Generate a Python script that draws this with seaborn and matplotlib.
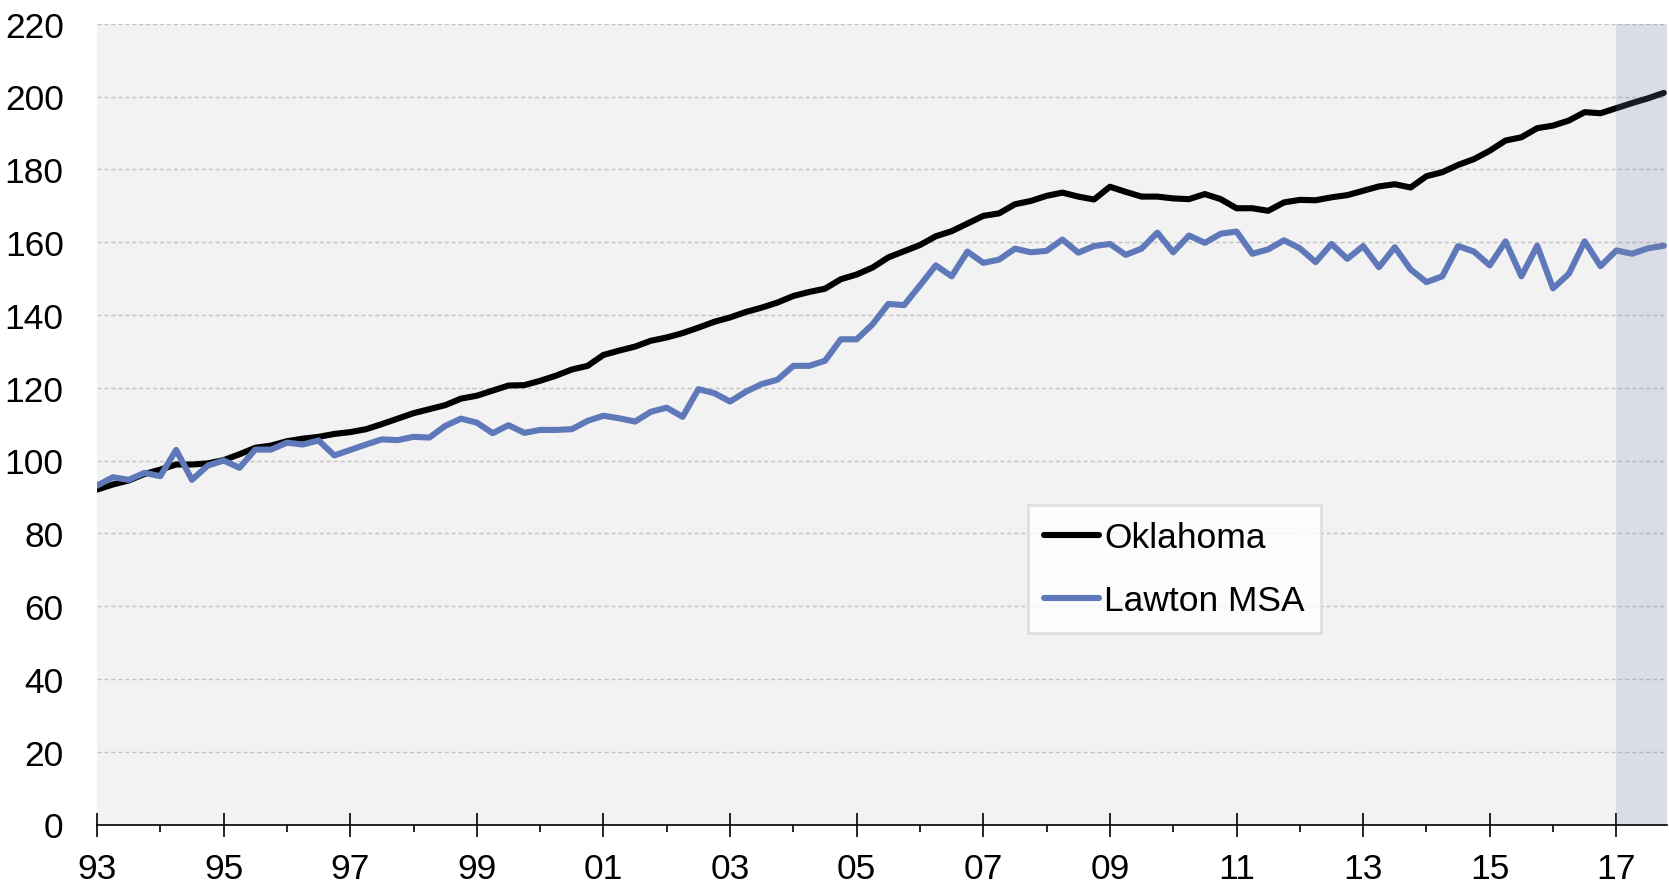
import numpy as np
import pandas as pd
import matplotlib
matplotlib.use('Agg')
import matplotlib.pyplot as plt
import seaborn as sns

# quarterly index, 1993Q1 .. 2017Q4
quarters = pd.period_range('1993Q1', '2017Q4', freq='Q')

oklahoma = [
    92.0, 93.4, 94.5, 96.3,
    97.5, 98.9, 98.9, 99.2,
    100.1, 101.7, 103.5, 104.1,
    105.3, 106.0, 106.5, 107.3,
    107.8, 108.6, 110.0, 111.5,
    113.0, 114.1, 115.2, 117.0,
    117.8, 119.2, 120.6, 120.7,
    121.9, 123.3, 125.0, 126.0,
    129.0, 130.2, 131.3, 132.9,
    133.8, 135.0, 136.5, 138.1,
    139.3, 140.8, 142.0, 143.4,
    145.2, 146.3, 147.2, 149.8,
    151.1, 153.0, 155.8, 157.5,
    159.2, 161.6, 163.0, 165.1,
    167.2, 167.9, 170.4, 171.3,
    172.7, 173.6, 172.5, 171.7,
    175.2, 173.8, 172.5, 172.5,
    172.0, 171.8, 173.2, 171.8,
    169.3, 169.3, 168.6, 170.9,
    171.6, 171.5, 172.3, 172.9,
    174.1, 175.3, 175.9, 175.0,
    178.1, 179.2, 181.2, 182.8,
    185.1, 187.9, 188.8, 191.3,
    192.0, 193.4, 195.7, 195.4,
    196.8, 198.2, 199.5, 201.0,
]

lawton = [
    93.1, 95.4, 94.7, 96.6,
    95.7, 102.9, 94.7, 98.6,
    100.0, 98.0, 103.0, 103.0,
    104.9, 104.4, 105.5, 101.4,
    102.9, 104.4, 105.8, 105.6,
    106.5, 106.3, 109.5, 111.5,
    110.4, 107.5, 109.7, 107.6,
    108.4, 108.4, 108.6, 110.9,
    112.3, 111.6, 110.7, 113.4,
    114.5, 112.0, 119.6, 118.5,
    116.2, 118.9, 121.0, 122.2,
    126.0, 126.0, 127.4, 133.3,
    133.3, 137.4, 143.0, 142.7,
    148.1, 153.6, 150.6, 157.4,
    154.3, 155.2, 158.2, 157.2,
    157.6, 160.7, 157.1, 158.9,
    159.5, 156.5, 158.2, 162.6,
    157.2, 161.8, 159.8, 162.3,
    162.9, 156.8, 158.0, 160.5,
    158.3, 154.5, 159.5, 155.4,
    158.9, 153.1, 158.6, 152.5,
    149.0, 150.6, 158.9, 157.4,
    153.6, 160.2, 150.6, 159.0,
    147.3, 151.3, 160.2, 153.4,
    157.7, 156.8, 158.3, 159.0,
]

series_names = ['Oklahoma', 'Lawton MSA']
colors = {'Oklahoma': '#000000', 'Lawton MSA': '#5f78b9'}
major_years = list(range(1993, 2018, 2))
major_labels = [str(y)[2:] for y in major_years]
minor_years = list(range(1994, 2018, 2))
y_ticks = list(range(0, 221, 20))
forecast_start = 2017

sns.set_theme(style='white')
plt.rcParams['font.family'] = ['Liberation Sans', 'DejaVu Sans']
plt.rcParams['text.color'] = 'black'

dates = quarters.year + (quarters.quarter - 1) / 4
df = pd.DataFrame({
    'date': np.tile(dates, 2),
    'value': oklahoma + lawton,
    'series': [series_names[0]] * len(oklahoma) + [series_names[1]] * len(lawton),
})

fig = plt.figure(figsize=(16.69, 8.87), dpi=100)
ax = fig.add_axes([97 / 1669, 61.5 / 887, 1570 / 1669, 800.8 / 887])
ax.set_facecolor('#f2f2f2')

sns.lineplot(data=df, x='date', y='value', hue='series', palette=colors,
             linewidth=4.4, ax=ax, legend=False, zorder=2)

ax.axvspan(forecast_start, 2017.8, color='#7a89b1', alpha=0.2, lw=0, zorder=3)

ax.set_xlim(1993, 2017.8)
ax.set_ylim(0, 220)
ax.set_yticks(y_ticks)
ax.set_xticks(major_years)
ax.set_xticklabels(major_labels)
ax.set_xticks(minor_years, minor=True)
ax.set_xlabel('')
ax.set_ylabel('')

ax.yaxis.grid(True, color='#c3c3c3', linestyle=(0, (3, 2)), linewidth=1.0, zorder=1)
ax.xaxis.grid(False)
ax.set_axisbelow(True)

for side in ['left', 'right', 'top']:
    ax.spines[side].set_visible(False)
ax.spines['bottom'].set_color('black')
ax.spines['bottom'].set_linewidth(1.2)
ax.spines['bottom'].set_zorder(4)

ax.tick_params(axis='y', length=0, pad=24, labelsize=25.5, labelcolor='black')
ax.tick_params(axis='x', which='major', direction='inout', length=17, width=1.2,
               color='black', pad=11, labelsize=25.5, labelcolor='black', bottom=True)
ax.tick_params(axis='x', which='minor', direction='out', length=5, width=1.2,
               color='black', bottom=True)

handles = ax.lines[:2]
leg = ax.legend(handles, series_names, loc='upper left', bbox_to_anchor=(0.593, 0.399),
                borderaxespad=0, fontsize=25.5, frameon=True, fancybox=False,
                handlelength=1.55, handletextpad=0.15, borderpad=0.45, labelspacing=0.85)
leg.get_frame().set_facecolor('white')
leg.get_frame().set_edgecolor('#d9d9d9')
leg.get_frame().set_linewidth(2.0)
for t in leg.get_texts():
    t.set_color('black')
leg.set_zorder(6)

fig.savefig('out.png', dpi=100)
